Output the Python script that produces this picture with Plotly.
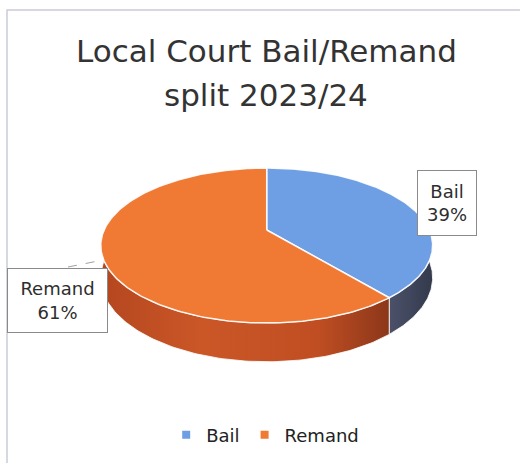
import numpy as np
import plotly.graph_objects as go

# ---------------- data ----------------
categories = ["Bail", "Remand"]
values = [39, 61]
title_lines = ["Local Court Bail/Remand", "split 2023/24"]

# ---------------- style ----------------
FONT = "DejaVu Sans, Verdana, sans-serif"
top_colors = ["#6e9fe4", "#f07934"]
side_scales = [
    [[0, "#4b5169"], [1, "#343a4c"]],
    [[0, "#b4461f"], [0.35, "#cb5727"], [0.75, "#c04e22"], [1, "#8c371a"]],
]
W, H = 520, 463
cx, cy = 266.7, 230.0
rx, ry = 162.6, 74.4
k = 0.2
depth = 31.0


def proj(theta_deg, dz=0.0):
    t = np.radians(theta_deg)
    X, Y = np.sin(t), np.cos(t)
    w = 1 + k * Y
    return cx + rx * X / w, cy - ry * Y / w + dz / w


fig = go.Figure()
total = sum(values)
bounds = []
acc = 0.0
for v in values:
    a0 = acc / total * 360
    acc += v
    a1 = acc / total * 360
    bounds.append((a0, a1))

# side walls (visible front half: 90..270 deg)
for i, (a0, a1) in enumerate(bounds):
    s, e = max(a0, 90), min(a1, 270)
    if e <= s:
        continue
    th = np.linspace(s, e, 120)
    xt, yt = proj(th)
    xb, yb = proj(th[::-1], depth)
    fig.add_trace(go.Scatter(
        x=np.concatenate([xt, xb, xt[:1]]), y=np.concatenate([yt, yb, yt[:1]]),
        mode="lines", fill="toself",
        fillgradient=dict(type="horizontal", colorscale=side_scales[i]),
        line=dict(color="rgba(255,255,255,0.8)", width=1),
        hoverinfo="skip", showlegend=False))

# top faces
for i, (a0, a1) in enumerate(bounds):
    th = np.linspace(a0, a1, 240)
    xa, ya = proj(th)
    fig.add_trace(go.Scatter(
        x=np.concatenate([[cx], xa, [cx]]), y=np.concatenate([[cy], ya, [cy]]),
        mode="lines", fill="toself", fillcolor=top_colors[i],
        line=dict(color="rgba(255,255,255,0.9)", width=1.5),
        hoverinfo="skip", showlegend=False))

# legend entries
for i, c in enumerate(categories):
    fig.add_trace(go.Scatter(
        x=[None], y=[None], mode="markers", name=c,
        marker=dict(symbol="square", size=8, color=top_colors[i])))

# data labels
label_boxes = [dict(x=447, y=203, w=58, h=64), dict(x=57.5, y=300.5, w=99, h=63)]
for i, c in enumerate(categories):
    pct = round(values[i] / total * 100)
    b = label_boxes[i]
    fig.add_annotation(
        x=b["x"], y=b["y"], xref="x", yref="y", showarrow=False,
        text=f"{c}<br>{pct}%", align="center",
        width=b["w"], height=b["h"],
        font=dict(family=FONT, size=18, color="#2e2e2e"),
        bgcolor="white", bordercolor="#8a8a8a", borderwidth=1, borderpad=0)

# leader line for Remand
fig.add_shape(type="line", x0=68, y0=267, x1=103, y1=260, xref="x", yref="y",
              line=dict(color="#a0a0a0", width=1, dash="dash"))

# title
for t, yy in zip(title_lines, [51, 95]):
    fig.add_annotation(x=266, y=yy, xref="x", yref="y", text=t, showarrow=False,
                       font=dict(family=FONT, size=31, color="#333333"),
                       xanchor="center", yanchor="middle")

# chart frame
fig.add_shape(type="path", path="M 520 10 L 7 10 L 7 463", xref="x", yref="y",
              line=dict(color="#c9cdd8", width=1.5))

fig.update_layout(
    width=W, height=H, autosize=False,
    margin=dict(l=0, r=0, t=0, b=0),
    paper_bgcolor="white", plot_bgcolor="white",
    xaxis=dict(range=[0, W], visible=False, fixedrange=True),
    yaxis=dict(range=[H, 0], visible=False, fixedrange=True),
    legend=dict(orientation="h", x=0.51, xanchor="center", y=1 - 435 / H, yanchor="middle",
                font=dict(family=FONT, size=18, color="#222222"),
                itemwidth=30, bgcolor="rgba(0,0,0,0)"),
)

fig.write_html("out.html")
